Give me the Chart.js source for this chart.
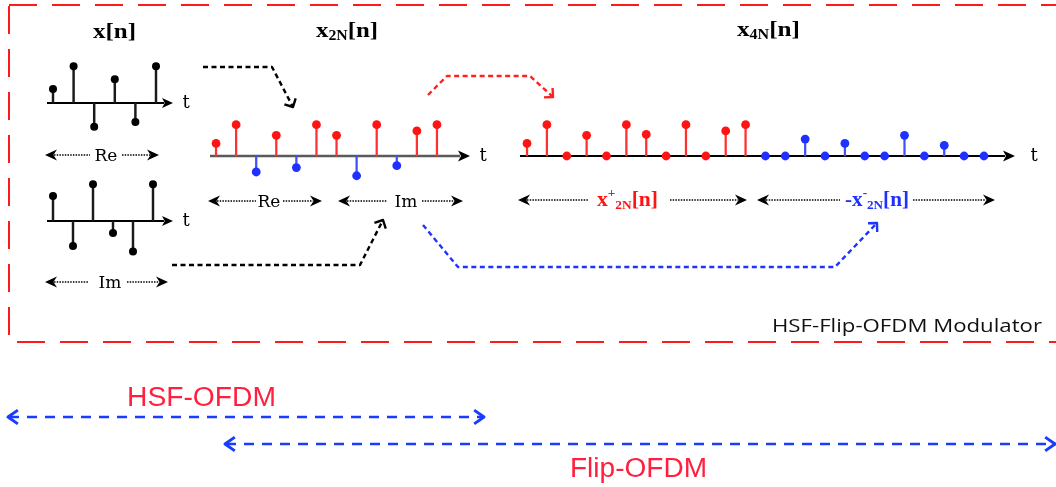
<!DOCTYPE html>
<html>
<head>
<meta charset="utf-8">
<title>HSF-Flip-OFDM Modulator</title>
<script src="https://cdn.jsdelivr.net/npm/chart.js@4.4.1/dist/chart.umd.min.js"></script>
<style>
  html, body { margin: 0; padding: 0; background: #fff; }
  #stage { position: relative; width: 1056px; height: 487px; overflow: hidden; }
  #stage canvas { position: absolute; }
  #overlay { position: absolute; left: 0; top: 0; pointer-events: none; }
  .ttl { font-family: "Liberation Serif", "DejaVu Serif", serif; font-weight: bold; }
  .dv { font-family: "DejaVu Serif", serif; }
  .sans { font-family: "Liberation Sans", Arial, sans-serif; }
</style>
</head>
<body>
<div id="stage">
  <canvas id="xRe" width="170" height="96" style="left:30px;top:55px"></canvas>
  <canvas id="xIm" width="170" height="96" style="left:30px;top:173px"></canvas>
  <canvas id="x2N" width="300" height="84" style="left:200px;top:114px"></canvas>
  <canvas id="x4N" width="546" height="84" style="left:510px;top:114px"></canvas>
  <svg id="overlay" width="1056" height="487"></svg>
</div>
<script>
// sample values (1 = tallest stem of each plot)
const xRe = [0.38, 1, -0.65, 0.65, -0.52, 1];
const xIm = [0.68, -0.68, 1, -0.33, -0.83, 1];
const x2N = [0.4, 1, -0.51, 0.66, -0.37, 1, 0.66, -0.63, 1, -0.31, 0.8, 1];
const x2NPlus = [0.4, 1, 0, 0.66, 0, 1, 0.69, 0, 1, 0, 0.8, 1];
const x2NMinus = [0, 0, 0.54, 0, 0.4, 0, 0, 0.66, 0, 0.34, 0, 0];

const RED = '#ff1414', RED_STEM = '#ff3030';
const BLUE = '#1f30ff', BLUE_STEM = '#4050ff';
const BLACK = '#000';

// horizontal time axis with arrow head, drawn at the y scale's zero
const axisPlugin = {
  id: 'stemAxis',
  beforeDatasetsDraw(chart, args, o) {
    const ctx = chart.ctx;
    const y = chart.scales.y.getPixelForValue(0);
    ctx.save();
    ctx.strokeStyle = o.color;
    ctx.lineWidth = o.width;
    ctx.beginPath();
    ctx.moveTo(o.from, y);
    ctx.lineTo(o.to - o.head + 2, y);
    ctx.stroke();
    ctx.fillStyle = '#000';
    ctx.beginPath();
    ctx.moveTo(o.to, y);
    ctx.lineTo(o.to - o.head, y - o.half);
    ctx.lineTo(o.to - o.head * 0.75, y);
    ctx.lineTo(o.to - o.head, y + o.half);
    ctx.closePath();
    ctx.fill();
    ctx.restore();
  }
};

function stemPlot(id, values, dotColors, stemColors, o) {
  return new Chart(document.getElementById(id), {
    type: 'bar',
    data: {
      labels: values.map((v, i) => i),
      datasets: [
        {
          type: 'line', data: values, showLine: false, order: 0,
          pointRadius: o.r, pointHoverRadius: o.r,
          pointBackgroundColor: dotColors, pointBorderColor: dotColors, pointBorderWidth: 0
        },
        { type: 'bar', data: values, order: 1, backgroundColor: stemColors, barThickness: o.stem }
      ]
    },
    options: {
      responsive: false,
      animation: false,
      events: [],
      layout: { padding: { left: o.padL, right: o.padR, top: 0, bottom: 0 } },
      scales: {
        x: { display: false, offset: true },
        y: { display: false, min: -1.2, max: 1.2 }
      },
      plugins: {
        legend: { display: false },
        tooltip: { enabled: false },
        stemAxis: o.axis
      }
    },
    plugins: [axisPlugin]
  });
}

stemPlot('xRe', xRe, BLACK, '#1a1a1a', {
  r: 4, stem: 1.8, padL: 12.7, padR: 33.7,
  axis: { from: 17, to: 143, color: '#000', width: 2, head: 11, half: 5 }
});
stemPlot('xIm', xIm, BLACK, '#1a1a1a', {
  r: 4, stem: 1.8, padL: 13, padR: 37,
  axis: { from: 17, to: 143, color: '#000', width: 2, head: 11, half: 5 }
});
stemPlot('x2N', x2N, x2N.map(v => v >= 0 ? RED : BLUE), x2N.map(v => v >= 0 ? RED_STEM : BLUE_STEM), {
  r: 4.4, stem: 1.6, padL: 6, padR: 53,
  axis: { from: 10, to: 270, color: '#5a5a5a', width: 2.5, head: 12, half: 5.5 }
});
stemPlot('x4N', x2NPlus.concat(x2NMinus),
  x2NPlus.map(() => RED).concat(x2NMinus.map(() => BLUE)),
  x2NPlus.map(() => RED_STEM).concat(x2NMinus.map(() => BLUE_STEM)), {
  r: 4.4, stem: 1.6, padL: 7.1, padR: 62.1,
  axis: { from: 10, to: 505, color: '#000', width: 1.8, head: 12, half: 5.5 }
});

// ---- annotations (box, titles, arrows, labels) ----
const parts = [];
const line = (pts, color, w, dash) => parts.push(
  `<polyline points="${pts.map(p => p.join(',')).join(' ')}" fill="none" stroke="${color}" stroke-width="${w}"` +
  (dash ? ` stroke-dasharray="${dash}"` : '') + ' stroke-linejoin="round"/>');
const chevron = (from, tip, color, w, len, ang) => {
  const dx = tip[0] - from[0], dy = tip[1] - from[1], L = Math.hypot(dx, dy);
  const ux = dx / L, uy = dy / L, a = ang * Math.PI / 180;
  const arm = s => [tip[0] - len * (ux * Math.cos(a) - s * uy * Math.sin(a)),
                    tip[1] - len * (uy * Math.cos(a) + s * ux * Math.sin(a))];
  line([arm(1), tip, arm(-1)], color, w);
};
const connector = (pts, color) => {
  line(pts, color, 2.4, '5 3.5');
  chevron(pts[pts.length - 2], pts[pts.length - 1], color, 2.4, 9, 45);
};
const head = (x, y, dir) => {
  const h = 12, hw = 5.5;
  parts.push(`<path d="M${x},${y} L${x + dir * h},${y - hw} L${x + dir * h * 0.7},${y} L${x + dir * h},${y + hw} Z" fill="#000"/>`);
};
const range = (y, x1, x2, g1, g2) => {
  line([[x1 + 9, y], [g1, y]], '#000', 1.3, '1.5 1.2');
  line([[g2, y], [x2 - 9, y]], '#000', 1.3, '1.5 1.2');
  head(x1, y, 1);
  head(x2, y, -1);
};
const txt = (x, y, attrs, inner) => parts.push(`<text x="${x}" y="${y}" ${attrs}>${inner}</text>`);

// modulator box
parts.push('<rect x="9" y="5" width="1075" height="337" fill="none" stroke="#ff1a1a" stroke-width="2" stroke-dasharray="28 15"/>');

// titles
txt(93, 38, 'class="ttl" font-size="22" textLength="43" lengthAdjust="spacingAndGlyphs"', 'x[n]');
txt(316, 37, 'class="ttl" font-size="22" textLength="62" lengthAdjust="spacingAndGlyphs"',
  'x<tspan font-size="14" dy="3">2N</tspan><tspan dy="-3">[n]</tspan>');
txt(737, 36, 'class="ttl" font-size="22" textLength="63" lengthAdjust="spacingAndGlyphs"',
  'x<tspan font-size="14" dy="3">4N</tspan><tspan dy="-3">[n]</tspan>');

// time labels
txt(186, 108, 'class="dv" font-size="18" text-anchor="middle"', 't');
txt(186, 226, 'class="dv" font-size="18" text-anchor="middle"', 't');
txt(483, 161, 'class="dv" font-size="18" text-anchor="middle"', 't');
txt(1034, 161, 'class="dv" font-size="18" text-anchor="middle"', 't');

// range arrows
range(155, 45, 159, 90, 122);
txt(106, 161, 'class="dv" font-size="17" text-anchor="middle"', 'Re');
range(282, 45, 168, 88, 127);
txt(110, 288, 'class="dv" font-size="17" text-anchor="middle"', 'Im');
range(201, 208, 322, 256, 283);
txt(269, 207, 'class="dv" font-size="17" text-anchor="middle"', 'Re');
range(201, 338, 463, 387, 422);
txt(406, 207, 'class="dv" font-size="17" text-anchor="middle"', 'Im');
range(200, 518, 747, 588, 670);
txt(597, 206, `class="ttl" font-size="21" fill="${RED}" textLength="61" lengthAdjust="spacingAndGlyphs"`,
  'x<tspan font-size="13" dy="-9">+</tspan><tspan font-size="13" dy="12">2N</tspan><tspan dy="-3">[n]</tspan>');
range(200, 757, 995, 840, 913);
txt(845, 206, `class="ttl" font-size="21" fill="${BLUE}" textLength="64" lengthAdjust="spacingAndGlyphs"`,
  '-x<tspan font-size="13" dy="-9">-</tspan><tspan font-size="13" dy="12">2N</tspan><tspan dy="-3">[n]</tspan>');

// dashed flow arrows
connector([[203, 67], [272, 67], [293, 107]], '#000');
connector([[172, 265], [360, 265], [383, 220]], '#000');
connector([[428, 95], [447, 76], [530, 76], [553, 97]], '#ff2020');
connector([[423, 225], [458, 267], [835, 267], [877, 223]], '#2034ff');

txt(772, 332, 'font-family="Open Sans, sans-serif" font-size="19" fill="#111" textLength="270" lengthAdjust="spacingAndGlyphs"',
  'HSF-Flip-OFDM Modulator');

// span arrows under the box
const BL = '#1a3cff';
line([[9, 417], [484, 417]], BL, 2.6, '10 8');
chevron([20, 417], [8, 417], BL, 3, 12, 35);
chevron([470, 417], [484, 417], BL, 3, 12, 35);
line([[226, 444], [1056, 444]], BL, 2.6, '10 8');
chevron([240, 444], [225, 444], BL, 3, 12, 35);
chevron([1040, 444], [1055, 444], BL, 3, 12, 35);
txt(127, 406, 'class="sans" font-size="27" fill="#ff1f3f" textLength="149" lengthAdjust="spacingAndGlyphs"', 'HSF-OFDM');
txt(570, 477, 'class="sans" font-size="27" fill="#ff1f3f" textLength="137" lengthAdjust="spacingAndGlyphs"', 'Flip-OFDM');

document.getElementById('overlay').innerHTML = parts.join('');
</script>
</body>
</html>
